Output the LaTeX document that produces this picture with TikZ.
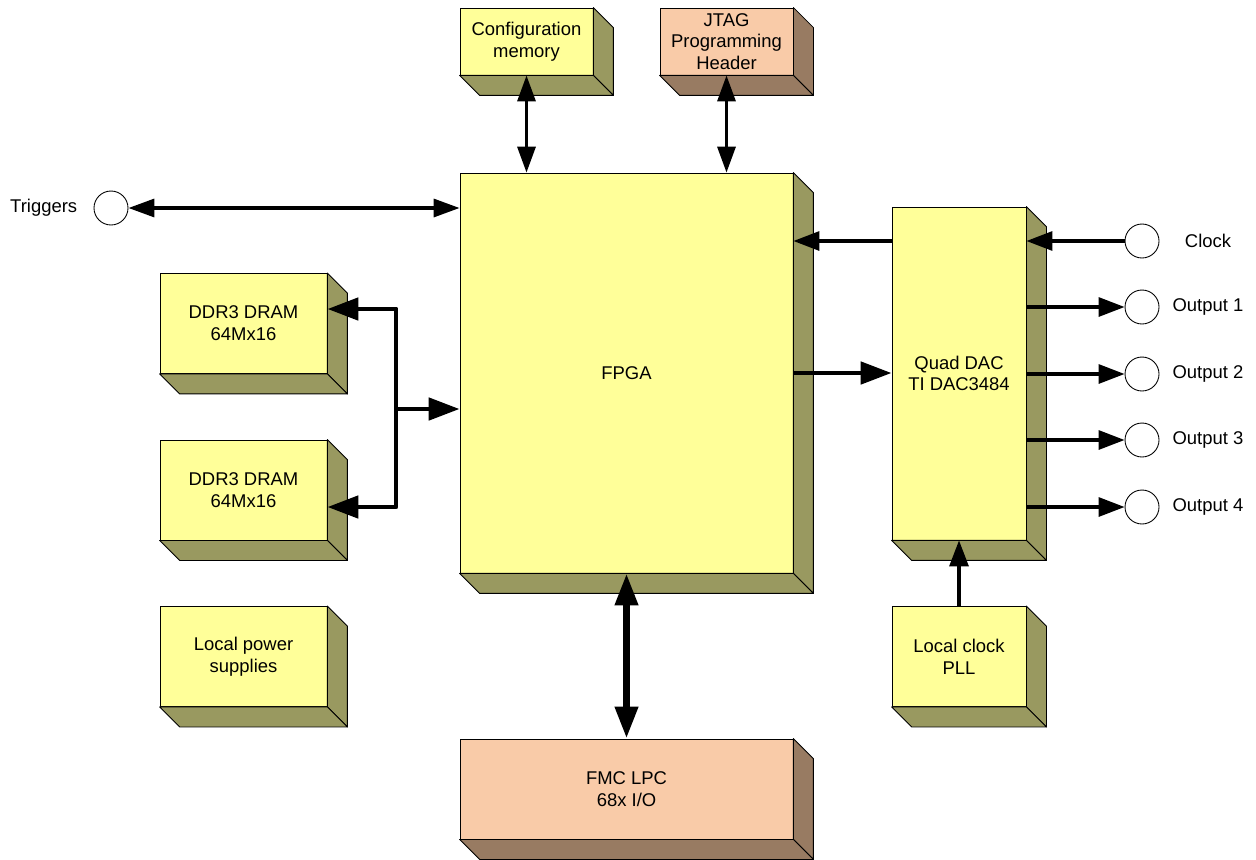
\documentclass[tikz,border=0pt]{standalone}
\usepackage{fontspec}
\setmainfont{Liberation Sans}
\usetikzlibrary{calc,arrows.meta,positioning}
\definecolor{chipyellow}{RGB}{255,255,153}
\definecolor{chipolive}{RGB}{153,153,96}
\definecolor{connsalmon}{RGB}{249,203,168}
\definecolor{connbrown}{RGB}{152,123,98}

% side and bottom faces of a block
\newcommand{\extrude}[2]{%
  \filldraw[fill=#2, line width=0.5pt, line join=round] (#1.north east) -- ++(20,20) -- ($(#1.south east)+(20,20)$) -- (#1.south east) -- cycle;
  \filldraw[fill=#2, line width=0.5pt, line join=round] (#1.south west) -- (#1.south east) -- ++(20,20) -- ($(#1.south west)+(20,20)$) -- cycle;
}

\begin{document}
\begin{tikzpicture}[x=0.02cm, y=-0.02cm,
        chip/.style={draw, rectangle, line width=0.5pt, fill=chipyellow, align=center, inner sep=0pt, font=\fontsize{10.5}{12.4}\selectfont},
        conn/.style={chip, fill=connsalmon},
        port/.style={draw, circle, line width=0.5pt, fill=white, minimum size=0.68cm, inner sep=0pt},
        lbl/.style={inner sep=0pt, font=\fontsize{10.5}{12.4}\selectfont},
        sig/.style={line width=1.8pt, -{Triangle[length=0.52cm, width=0.38cm]}},
        bisig/.style={line width=1.9pt, {Triangle[length=0.52cm, width=0.36cm]}-{Triangle[length=0.52cm, width=0.36cm]}},
        bus/.style={line width=2.8pt, -{Triangle[length=0.62cm, width=0.44cm]}},
        wide/.style={line width=4pt, {Triangle[length=0.64cm, width=0.44cm]}-{Triangle[length=0.64cm, width=0.44cm]}}
    ]
        \useasboundingbox (0,0) rectangle (1256,859);

        % Blocks
        \node[chip, minimum width=2.66cm, minimum height=1.34cm] (cfg) at (526.5,41.5) {Configuration\\memory};
        \node[conn, minimum width=2.66cm, minimum height=1.34cm] (jtag) at (726.5,41.5) {JTAG\\Programming\\Header};
        \node[chip, minimum width=6.66cm, minimum height=8cm] (fpga) at (626.5,373) {FPGA};
        \node[chip, minimum width=3.34cm, minimum height=2cm] (ddrA) at (243.5,323.5) {DDR3 DRAM\\64Mx16};
        \node[chip, minimum width=3.34cm, minimum height=2cm] (ddrB) at (243.5,490) {DDR3 DRAM\\64Mx16};
        \node[chip, minimum width=3.34cm, minimum height=2cm] (psu) at (243.5,656.5) {Local power\\supplies};
        \node[chip, minimum width=2.68cm, minimum height=6.66cm] (dac) at (959,373.5) {Quad DAC\\TI DAC3484};
        \node[chip, minimum width=2.68cm, minimum height=2cm] (pll) at (959,656.5) {Local clock\\PLL};
        \node[conn, minimum width=6.66cm, minimum height=2cm] (fmc) at (626.5,789) {FMC LPC\\68x I/O};

        \extrude{cfg}{chipolive}
        \extrude{jtag}{connbrown}
        \extrude{fpga}{chipolive}
        \extrude{ddrA}{chipolive}
        \extrude{ddrB}{chipolive}
        \extrude{psu}{chipolive}
        \extrude{dac}{chipolive}
        \extrude{pll}{chipolive}
        \extrude{fmc}{connbrown}

        % Ports
        \node[port] (trig) at (111,208) {};
        \node[lbl, left=0.32cm of trig] (trigtxt) {Triggers};
        \node[port] (clk) at (1142,241) {};
        \node[lbl] (clktxt) at (1208,241) {Clock};
        \foreach \i/\y in {1/307, 2/374, 3/440, 4/507} {
            \node[port] (out\i) at (1142,\y) {};
            \node[lbl] (out\i txt) at (1208,\y) {Output \i};
        }

        % Arrows
        \draw[bisig] (cfg.south) -- (cfg.south |- fpga.north);
        \draw[bisig] (jtag.south) -- (jtag.south |- fpga.north);
        \draw[bisig] (trig.east) -- (fpga.west |- trig);

        \coordinate (busA) at (396,309);
        \coordinate (busB) at (396,507);
        \coordinate (busM) at (396,409);
        \draw[bus, line join=round, {Triangle[length=0.62cm, width=0.44cm]}-{Triangle[length=0.62cm, width=0.44cm]}] (ddrA.east |- busA) -- (busA) -- (busB) -- (ddrB.east |- busB);
        \draw[bus] (busM) -- (fpga.west |- busM);

        \draw[sig] (dac.west |- clk) -- (fpga.east |- clk);
        \draw[bus] (fpga.east) -- (dac.west |- fpga.east);
        \draw[sig] (clk.west) -- (dac.east |- clk);
        \foreach \i in {1,...,4}
            \draw[sig] (dac.east |- out\i) -- (out\i.west);
        \draw[sig] (pll.north) -- (dac.south);

        \draw[wide] (fpga.south) -- (fmc.north);
    \end{tikzpicture}
\end{document}
